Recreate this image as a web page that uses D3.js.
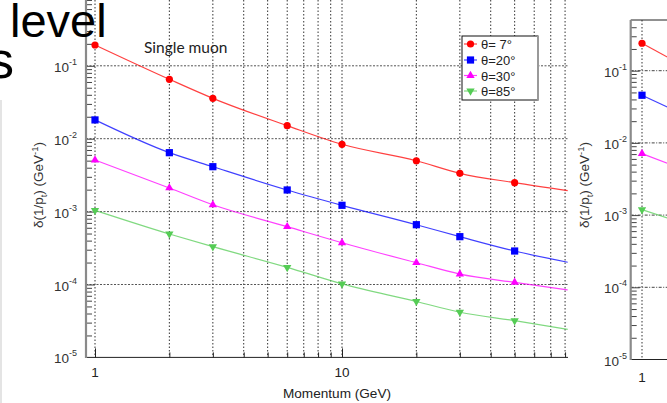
<!DOCTYPE html>
<html><head><meta charset="utf-8">
<script src="https://cdn.jsdelivr.net/npm/d3@7"></script>
<style>
html,body{margin:0;padding:0;background:#fff;}
svg{display:block;}
text{font-family:"Liberation Sans",Arial,sans-serif;}
</style></head>
<body>
<svg id="c" width="667" height="403"></svg>
<script>
// ---------------- data ----------------
const momentum = [1, 2, 3, 6, 10, 20, 30, 50];
const resTheta7  = [0.193, 0.0653, 0.0358, 0.0151, 0.00838, 0.00498, 0.00335, 0.00249];
const resTheta20 = [0.0181, 0.00643, 0.00413, 0.00198, 0.00122, 0.000661, 0.000453, 0.000288];
const resTheta30 = [0.00510, 0.00211, 0.00124, 0.000621, 0.000374, 0.000199, 0.000139, 0.000107];
const resTheta85 = [0.00104, 0.000493, 0.000330, 0.000172, 0.000102, 0.0000585, 0.0000416, 0.0000319];
const curveEndMomentum = 82;
const curveEndValues = [0.00194, 0.000202, 0.0000841, 0.0000243];
const seriesNames = ["θ= 7°", "θ=20°", "θ=30°", "θ=85°"];
const seriesColors = ["#ff0000", "#0000ff", "#ff00ff", "#55cc55"];
const seriesShapes = ["circle", "square", "triangleUp", "triangleDown"];
const yTickExponents = [-1, -2, -3, -4, -5];
const xTickLabels = [1, 10];
// second (partially visible) panel
const panel2Momentum = [1, 2];
const panel2Values = [
  [0.240, 0.066],
  [0.0457, 0.0151],
  [0.0071, 0.0029],
  [0.00119, 0.00054]
];
const panel2Exponents = [-1, -2, -3, -4, -5];

const allSeries = [resTheta7, resTheta20, resTheta30, resTheta85];

const svg = d3.select("#c");

// ---------------- helpers ----------------
function marker(g, shape, cx, cy, color) {
  if (shape === "circle") {
    g.append("circle").attr("cx", cx).attr("cy", cy).attr("r", 3.6).attr("fill", color);
  } else if (shape === "square") {
    g.append("rect").attr("x", cx - 3.6).attr("y", cy - 3.6).attr("width", 7.2).attr("height", 7.2).attr("fill", color);
  } else {
    const sym = d3.symbol().type(d3.symbolTriangle).size(30);
    g.append("path").attr("d", sym())
      .attr("transform", `translate(${cx},${cy})` + (shape === "triangleDown" ? " rotate(180)" : ""))
      .attr("fill", color);
  }
}
function minorTicks(lo, hi) {
  const out = [];
  for (let e = lo; e < hi; e++) for (let m = 2; m <= 9; m++) out.push(m * Math.pow(10, e));
  return out;
}
function powLabel(g, x, y, exp, anchor) {
  const t = g.append("text").attr("x", x).attr("y", y).attr("text-anchor", anchor)
    .attr("font-size", 13.5).attr("fill", "#333").attr("dominant-baseline", "central");
  t.append("tspan").text("10");
  t.append("tspan").attr("font-size", 9).attr("dy", -5).text(exp);
}
function yTitle(g, x, y) {
  const t = g.append("text").attr("transform", `translate(${x},${y}) rotate(-90)`)
    .attr("text-anchor", "middle").attr("font-size", 13.5).attr("fill", "#333");
  t.append("tspan").text("δ(1/p");
  t.append("tspan").attr("font-size", 9.5).attr("dy", 3.5).text("t");
  t.append("tspan").attr("dy", -3.5).text(") (GeV");
  t.append("tspan").attr("font-size", 9.5).attr("dy", -5.5).text("-1");
  t.append("tspan").attr("dy", 5.5).text(")");
}

// ---------------- panel 1 ----------------
const L = 86, R = 568, B = 357.4;
const x = d3.scaleLog().domain([Math.pow(10, (L - 95) / 247), Math.pow(10, (R - 95) / 247)]).range([L, R]);
const y = d3.scaleLog().domain([1e-5, 1]).range([B, B - 5 * 72.9]);

svg.append("clipPath").attr("id", "clip1").append("rect")
  .attr("x", L).attr("y", -20).attr("width", R - L).attr("height", B + 20);

const grid = svg.append("g");
const xGridVals = [1,2,3,4,5,6,7,8,9,10,20,30,40,50,60,70,80];
grid.selectAll("line.v").data(xGridVals).join("line")
  .attr("x1", d => x(d)).attr("x2", d => x(d)).attr("y1", 0).attr("y2", B)
  .attr("stroke", "#333").attr("stroke-width", 1).attr("stroke-dasharray", "1.5,2");
grid.selectAll("line.h").data([1e-1, 1e-2, 1e-3, 1e-4]).join("line")
  .attr("x1", L).attr("x2", R).attr("y1", d => y(d)).attr("y2", d => y(d))
  .attr("stroke", "#555").attr("stroke-width", 1).attr("stroke-dasharray", "2,1.5");

// axes
const yMinor = d3.axisLeft(y).tickValues(minorTicks(-5, 0)).tickSize(-6).tickFormat("");
const yMajor = d3.axisLeft(y).tickValues([1e-1,1e-2,1e-3,1e-4]).tickSize(-9).tickFormat("");
[yMinor, yMajor].forEach(ax => {
  const g = svg.append("g").attr("transform", `translate(${L},0)`).call(ax);
  g.select(".domain").remove();
  g.selectAll("line").attr("stroke", "#444");
});
const xMinor = d3.axisBottom(x).tickValues([2,3,4,5,6,7,8,9,20,30,40,50,60,70,80]).tickSize(-5).tickFormat("");
const xMajor = d3.axisBottom(x).tickValues([1,10]).tickSize(-9).tickFormat("");
[xMinor, xMajor].forEach(ax => {
  const g = svg.append("g").attr("transform", `translate(0,${B})`).call(ax);
  g.select(".domain").remove();
  g.selectAll("line").attr("stroke", "#222");
});
svg.append("line").attr("x1", L).attr("x2", R).attr("y1", B).attr("y2", B).attr("stroke", "#222").attr("stroke-width", 1);
svg.append("line").attr("x1", L).attr("x2", L).attr("y1", 0).attr("y2", B + 0.5).attr("stroke", "#8a8a8a").attr("stroke-width", 2.2);

// curves
const plot = svg.append("g").attr("clip-path", "url(#clip1)");
const lineGen = d3.line().x(d => x(d[0])).y(d => y(d[1])).curve(d3.curveMonotoneX);
allSeries.forEach((vals, i) => {
  const pts = momentum.map((m, j) => [m, vals[j]]).concat([[curveEndMomentum, curveEndValues[i]]]);
  plot.append("path").attr("d", lineGen(pts)).attr("fill", "none")
    .attr("stroke", seriesColors[i]).attr("stroke-opacity", 0.75).attr("stroke-width", 1.2);
});
allSeries.forEach((vals, i) => {
  momentum.forEach((m, j) => marker(plot, seriesShapes[i], x(m), y(vals[j]), seriesColors[i]));
});

// tick labels
yTickExponents.forEach(e => powLabel(svg, 77, y(Math.pow(10, e)) + 1, String(e), "end"));
xTickLabels.forEach(v => svg.append("text").attr("x", x(v)).attr("y", 372).attr("text-anchor", "middle")
  .attr("dominant-baseline", "central").attr("font-size", 13.5).attr("fill", "#222").text(v));
svg.append("text").attr("x", 337).attr("y", 393).attr("text-anchor", "middle").attr("dominant-baseline", "central")
  .attr("font-size", 13.6).attr("fill", "#222").text("Momentum (GeV)");
yTitle(svg, 43, 185);

svg.append("text").attr("x", 144).attr("y", 47).attr("dominant-baseline", "central")
  .style("font-family", "Lato, 'Open Sans', sans-serif").attr("font-size", 15.5).attr("fill", "#222").text("Single muon");

// legend
const lg = svg.append("g");
lg.append("rect").attr("x", 462).attr("y", 36).attr("width", 76).attr("height", 64)
  .attr("fill", "#fff").attr("stroke", "#111").attr("stroke-width", 1);
lg.append("line").attr("x1", 538).attr("x2", 538).attr("y1", 36).attr("y2", 100.5).attr("stroke", "#999").attr("stroke-width", 2);
const rowY = [44, 60, 75.5, 91];
seriesNames.forEach((name, i) => {
  lg.append("line").attr("x1", 464).attr("x2", 477).attr("y1", rowY[i]).attr("y2", rowY[i])
    .attr("stroke", seriesColors[i]).attr("stroke-opacity", 0.75).attr("stroke-width", 1.2);
  marker(lg, seriesShapes[i], 470.5, rowY[i], seriesColors[i]);
  lg.append("text").attr("x", 481).attr("y", rowY[i] + 0.5).attr("dominant-baseline", "central")
    .attr("font-size", 13).attr("fill", "#222").text(name);
});

// ---------------- panel 2 (cut at right edge) ----------------
const L2 = 630.7, T2 = 20, B2 = 359.5;
const x2 = d3.scaleLog().domain([1, 10]).range([642, 642 + 247]);
const y2 = d3.scaleLog().domain([1e-5, 1e-1]).range([B2, 70.7]);
svg.append("clipPath").attr("id", "clip2").append("rect")
  .attr("x", L2).attr("y", T2).attr("width", 667 - L2).attr("height", B2 - T2);
const g2 = svg.append("g");
g2.append("line").attr("x1", x2(1)).attr("x2", x2(1)).attr("y1", T2).attr("y2", B2)
  .attr("stroke", "#333").attr("stroke-dasharray", "1.5,2");
g2.selectAll("line.h").data([1e-1, 1e-2, 1e-3, 1e-4]).join("line")
  .attr("x1", L2).attr("x2", 667).attr("y1", d => y2(d)).attr("y2", d => y2(d))
  .attr("stroke", "#444").attr("stroke-dasharray", "3,1.5,1,1.5");
[d3.axisLeft(y2).tickValues(minorTicks(-5, 0).filter(v => y2(v) > T2 + 2)).tickSize(-6).tickFormat(""),
 d3.axisLeft(y2).tickValues([1e-1,1e-2,1e-3,1e-4]).tickSize(-9).tickFormat("")].forEach(ax => {
  const g = svg.append("g").attr("transform", `translate(${L2},0)`).call(ax);
  g.select(".domain").remove();
  g.selectAll("line").attr("stroke", "#444");
});
const p2 = svg.append("g").attr("clip-path", "url(#clip2)");
const lineGen2 = d3.line().x(d => x2(d[0])).y(d => y2(d[1]));
panel2Values.forEach((vals, i) => {
  const pts = panel2Momentum.map((m, j) => [m, vals[j]]);
  p2.append("path").attr("d", lineGen2(pts)).attr("fill", "none")
    .attr("stroke", seriesColors[i]).attr("stroke-opacity", 0.75).attr("stroke-width", 1.2);
  panel2Momentum.forEach((m, j) => marker(p2, seriesShapes[i], x2(m), y2(vals[j]), seriesColors[i]));
});
svg.append("line").attr("x1", L2).attr("x2", 667).attr("y1", T2).attr("y2", T2).attr("stroke", "#222");
svg.append("line").attr("x1", L2).attr("x2", 667).attr("y1", B2).attr("y2", B2).attr("stroke", "#222");
svg.append("line").attr("x1", L2).attr("x2", L2).attr("y1", T2).attr("y2", B2 + 0.5).attr("stroke", "#8a8a8a").attr("stroke-width", 2.2);
panel2Exponents.forEach(e => powLabel(svg, 627, y2(Math.pow(10, e)) + 1, String(e), "end"));
svg.append("text").attr("x", x2(1)).attr("y", 377).attr("text-anchor", "middle").attr("dominant-baseline", "central")
  .attr("font-size", 13.5).attr("fill", "#222").text("1");
yTitle(svg, 589, 185);

// ---------------- slide overlay text ----------------
svg.append("rect").attr("x", 0).attr("y", 100).attr("width", 2).attr("height", 303).attr("fill", "#e4e4e4");
svg.append("text").attr("x", 10).attr("y", 37).attr("font-size", 47).attr("fill", "#000").text("level");
svg.append("text").attr("x", -12).attr("y", 78).attr("font-size", 52).attr("fill", "#000").text("s");
</script>
</body></html>
